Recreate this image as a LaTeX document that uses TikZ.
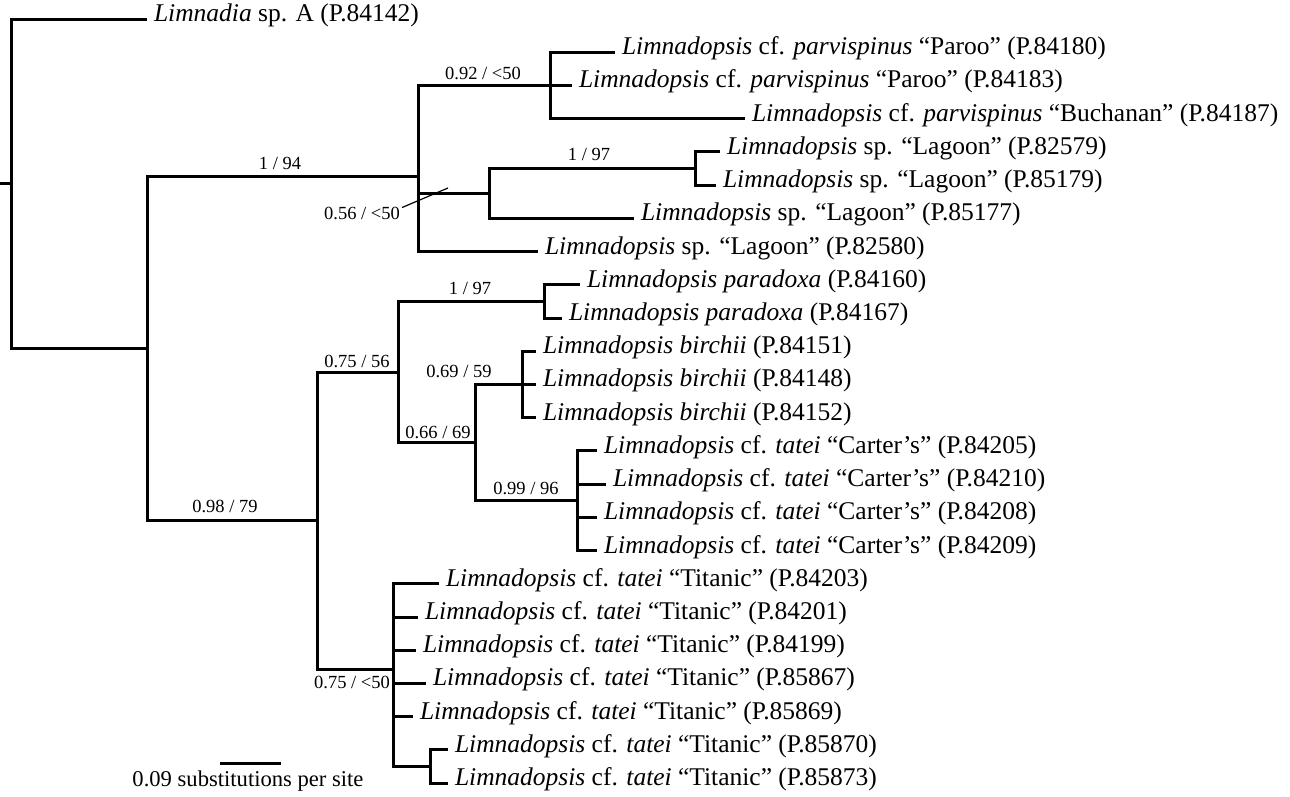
\documentclass[tikz,border=0pt]{standalone}
\usepackage{fontspec}
\setmainfont{Liberation Serif}
\begin{document}
\begin{tikzpicture}[x=1pt,y=-1pt,
  br/.style={line width=3pt},
  taxon/.style={anchor=west,inner sep=0pt,outer xsep=7pt,text height=0.7em,text depth=0.2em,font=\fontsize{25.5}{27}\selectfont},
  support/.style={inner sep=0pt,font=\fontsize{18.5}{20}\selectfont},
  scalelab/.style={inner sep=0pt,font=\fontsize{22.6}{24}\selectfont}]
\useasboundingbox (0,0) rectangle (1290,796);
% internal nodes
\coordinate (r0) at (0,183.9);
\coordinate (R) at (11,183.9);
\coordinate (A) at (147,348.8);
\coordinate (N194) at (418,176.8);
\coordinate (N092) at (550,85.4);
\coordinate (N056) at (489,193.4);
\coordinate (N197a) at (695,168.5);
\coordinate (N098) at (317,520.8);
\coordinate (N075) at (398,372);
\coordinate (N197b) at (544,301.4);
\coordinate (N066) at (475,442.6);
\coordinate (Nbir) at (522,384.4);
\coordinate (N099) at (577,500.7);
\coordinate (N075b) at (393,669.5);
\coordinate (Nsub) at (430,766.4);
% leaves
\node[taxon] (t1) at (147,19) {\textit{Limnadia} sp. A (P.84142)};
\node[taxon] (t2) at (615,52.2) {\textit{Limnadopsis} cf. \textit{parvispinus} “Paroo” (P.84180)};
\node[taxon] (t3) at (572,85.4) {\textit{Limnadopsis} cf. \textit{parvispinus} “Paroo” (P.84183)};
\node[taxon] (t4) at (745,118.7) {\textit{Limnadopsis} cf. \textit{parvispinus} “Buchanan” (P.84187)};
\node[taxon] (t5) at (720,151.9) {\textit{Limnadopsis} sp. “Lagoon” (P.82579)};
\node[taxon] (t6) at (716,185.1) {\textit{Limnadopsis} sp. “Lagoon” (P.85179)};
\node[taxon] (t7) at (634,218.3) {\textit{Limnadopsis} sp. “Lagoon” (P.85177)};
\node[taxon] (t8) at (538,251.5) {\textit{Limnadopsis} sp. “Lagoon” (P.82580)};
\node[taxon] (t9) at (580,284.8) {\textit{Limnadopsis paradoxa} (P.84160)};
\node[taxon] (t10) at (562,318) {\textit{Limnadopsis paradoxa} (P.84167)};
\node[taxon] (t11) at (536,351.2) {\textit{Limnadopsis birchii} (P.84151)};
\node[taxon] (t12) at (536,384.4) {\textit{Limnadopsis birchii} (P.84148)};
\node[taxon] (t13) at (536,417.6) {\textit{Limnadopsis birchii} (P.84152)};
\node[taxon] (t14) at (597,450.9) {\textit{Limnadopsis} cf. \textit{tatei} “Carter’s” (P.84205)};
\node[taxon] (t15) at (606,484.1) {\textit{Limnadopsis} cf. \textit{tatei} “Carter’s” (P.84210)};
\node[taxon] (t16) at (597,517.3) {\textit{Limnadopsis} cf. \textit{tatei} “Carter’s” (P.84208)};
\node[taxon] (t17) at (597,550.5) {\textit{Limnadopsis} cf. \textit{tatei} “Carter’s” (P.84209)};
\node[taxon] (t18) at (439,583.7) {\textit{Limnadopsis} cf. \textit{tatei} “Titanic” (P.84203)};
\node[taxon] (t19) at (418,617) {\textit{Limnadopsis} cf. \textit{tatei} “Titanic” (P.84201)};
\node[taxon] (t20) at (416,650.2) {\textit{Limnadopsis} cf. \textit{tatei} “Titanic” (P.84199)};
\node[taxon] (t21) at (426,683.4) {\textit{Limnadopsis} cf. \textit{tatei} “Titanic” (P.85867)};
\node[taxon] (t22) at (413,716.6) {\textit{Limnadopsis} cf. \textit{tatei} “Titanic” (P.85869)};
\node[taxon] (t23) at (448,749.8) {\textit{Limnadopsis} cf. \textit{tatei} “Titanic” (P.85870)};
\node[taxon] (t24) at (448,783) {\textit{Limnadopsis} cf. \textit{tatei} “Titanic” (P.85873)};
% branches
\draw[br] (r0) -- (R);
\draw[br] (R) |- (t1.west);
\draw[br] (R) |- (A);
\draw[br] (A) |- (N194);
\draw[br] (A) |- (N098);
\draw[br] (N194) |- (N092);
\draw[br] (N194) |- (N056);
\draw[br] (N194) |- (t8.west);
\draw[br] (N092) |- (t2.west);
\draw[br] (N092) |- (t3.west);
\draw[br] (N092) |- (t4.west);
\draw[br] (N056) |- (N197a);
\draw[br] (N056) |- (t7.west);
\draw[br] (N197a) |- (t5.west);
\draw[br] (N197a) |- (t6.west);
\draw[br] (N098) |- (N075);
\draw[br] (N098) |- (N075b);
\draw[br] (N075) |- (N197b);
\draw[br] (N075) |- (N066);
\draw[br] (N197b) |- (t9.west);
\draw[br] (N197b) |- (t10.west);
\draw[br] (N066) |- (Nbir);
\draw[br] (N066) |- (N099);
\draw[br] (Nbir) |- (t11.west);
\draw[br] (Nbir) |- (t12.west);
\draw[br] (Nbir) |- (t13.west);
\draw[br] (N099) |- (t14.west);
\draw[br] (N099) |- (t15.west);
\draw[br] (N099) |- (t16.west);
\draw[br] (N099) |- (t17.west);
\draw[br] (N075b) |- (t18.west);
\draw[br] (N075b) |- (t19.west);
\draw[br] (N075b) |- (t20.west);
\draw[br] (N075b) |- (t21.west);
\draw[br] (N075b) |- (t22.west);
\draw[br] (N075b) |- (Nsub);
\draw[br] (Nsub) |- (t23.west);
\draw[br] (Nsub) |- (t24.west);
% support values
\node[support] (s194) at (280,163) {1 / 94};
\node[support] (s092) at (483,73) {0.92 / <50};
\node[support] (s197a) at (589,154) {1 / 97};
\node[support] (s056) at (362,213) {0.56 / <50};
\coordinate (s056end) at (448,188);
\draw[line width=1.2pt] ([xshift=2pt,yshift=-1pt]s056.north east) -- (s056end);
\node[support] (s197b) at (470,288) {1 / 97};
\node[support] (s075) at (357,361) {0.75 / 56};
\node[support] (s098) at (225,506) {0.98 / 79};
\node[support] (s066) at (438,432) {0.66 / 69};
\node[support] (s069) at (459,371) {0.69 / 59};
\node[support] (s099) at (526,488) {0.99 / 96};
\node[support] (s075b) at (352,682) {0.75 / <50};
% scale bar
\coordinate (sb1) at (220,763);
\coordinate (sb2) at (281,763);
\draw[br] (sb1) -- (sb2);
\node[scalelab] (sbl) at (248,781) {0.09 substitutions per site};
\end{tikzpicture}
\end{document}
